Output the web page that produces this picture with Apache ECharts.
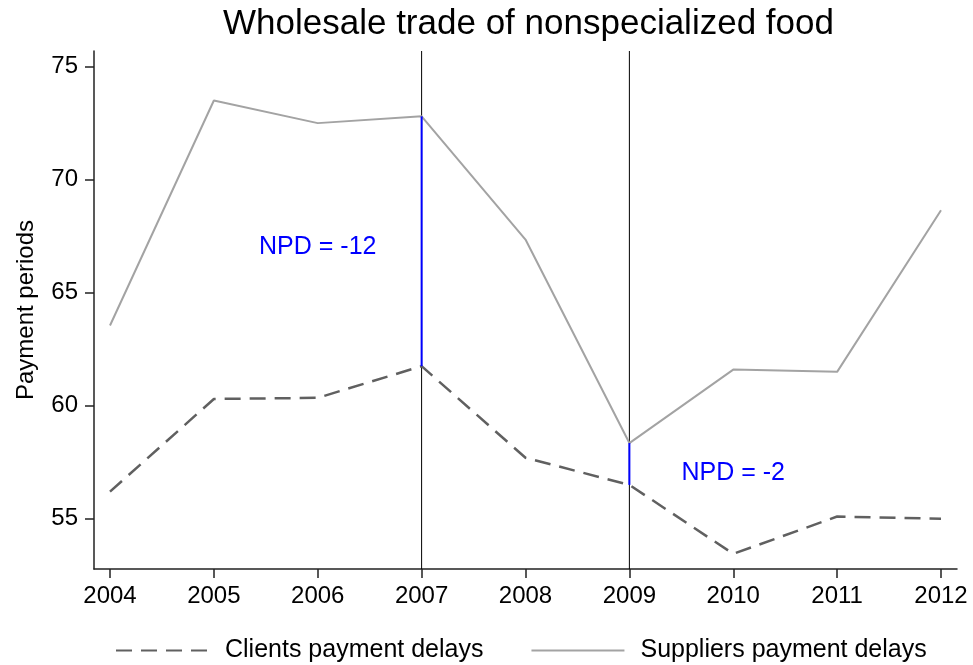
<!DOCTYPE html>
<html>
<head>
<meta charset="utf-8">
<script src="https://cdn.jsdelivr.net/npm/echarts@6/dist/echarts.min.js"></script>
<style>
  html, body { margin: 0; padding: 0; background: #fff; }
  #chart { width: 973px; height: 665px; }
</style>
</head>
<body>
<div id="chart"></div>
<script>
// data
var years = [2004, 2005, 2006, 2007, 2008, 2009, 2010, 2011, 2012]
var clients = [56.2, 60.3, 60.35, 61.75, 57.7, 56.5, 53.45, 55.1, 55.0]
var suppliers = [63.55, 73.5, 72.5, 72.8, 67.35, 58.35, 61.6, 61.5, 68.65]
var yTicks = [55, 60, 65, 70, 75]
var markYears = [2007, 2009]
var npdLabels = ['NPD = -12', 'NPD = -2']
var npdPos = [[2006, 67.0], [2010, 57.0]]

var yMin = 52.78
var yMax = 75.69

function pairs (xs, ys) {
  return xs.map(function (x, i) { return [x, ys[i]] })
}

var series = [
  {
    name: 'Clients payment delays',
    type: 'line',
    data: pairs(years, clients),
    symbol: 'none',
    lineStyle: { color: '#606060', width: 2.5, type: [16, 9] },
    itemStyle: { color: 'rgba(0,0,0,0)' },
    z: 3
  },
  {
    name: 'Suppliers payment delays',
    type: 'line',
    data: pairs(years, suppliers),
    symbol: 'none',
    lineStyle: { color: '#a3a3a3', width: 2 },
    itemStyle: { color: 'rgba(0,0,0,0)' },
    z: 3
  }
]

// vertical reference lines and the NPD gaps
markYears.forEach(function (yr) {
  var i = years.indexOf(yr)
  series.push({
    type: 'line',
    data: [[yr, yMin], [yr, yMax]],
    symbol: 'none',
    silent: true,
    lineStyle: { color: '#000', width: 1 },
    z: 2
  })
  series.push({
    type: 'line',
    data: [[yr, clients[i]], [yr, suppliers[i]]],
    symbol: 'none',
    silent: true,
    lineStyle: { color: '#0000ff', width: 2 },
    z: 4
  })
})

series.push({
  type: 'scatter',
  symbolSize: 0,
  silent: true,
  itemStyle: { opacity: 1 },
  data: npdPos.map(function (p, i) { return { value: p, name: npdLabels[i] } }),
  label: {
    show: true,
    position: 'inside',
    formatter: '{b}',
    color: '#0000ff',
    fontSize: 25,
    fontFamily: 'Liberation Sans, Arial, sans-serif'
  }
})

var option = {
  animation: false,
  backgroundColor: '#fff',
  textStyle: { fontFamily: 'Liberation Sans, Arial, sans-serif' },
  title: {
    text: 'Wholesale trade of nonspecialized food',
    left: 218,
    top: 2,
    textStyle: { fontSize: 35, fontWeight: 'normal', color: '#000' }
  },
  legend: {
    top: 633,
    left: 110,
    itemWidth: 93,
    itemHeight: 14,
    itemGap: 47,
    data: ['Clients payment delays', 'Suppliers payment delays'],
    itemStyle: { opacity: 0 },
    textStyle: { fontSize: 25, color: '#000', padding: [0, 0, 0, 11] }
  },
  grid: { left: 94, right: 16, top: 51, bottom: 96, outerBoundsMode: 'none' },
  xAxis: {
    type: 'value',
    min: 2003.846,
    max: 2012.154,
    splitLine: { show: false },
    axisLine: { lineStyle: { color: '#222', width: 1.5 } },
    axisTick: { show: true, length: 9, customValues: years, lineStyle: { color: '#222', width: 1.5 } },
    axisLabel: {
      customValues: years,
      formatter: function (v) { return String(v) },
      fontSize: 24,
      color: '#000',
      margin: 15
    }
  },
  yAxis: {
    type: 'value',
    min: yMin,
    max: yMax,
    name: 'Payment periods',
    nameLocation: 'middle',
    nameGap: 56,
    nameTextStyle: { fontSize: 24, color: '#000' },
    splitLine: { show: false },
    axisLine: { show: true, lineStyle: { color: '#222', width: 1.5 } },
    axisTick: { show: true, length: 9, customValues: yTicks, lineStyle: { color: '#222', width: 1.5 } },
    axisLabel: { customValues: yTicks, fontSize: 24, color: '#000', margin: 16 }
  },
  series: series
}

var chart = echarts.init(document.getElementById('chart'))
chart.setOption(option)
</script>
</body>
</html>
